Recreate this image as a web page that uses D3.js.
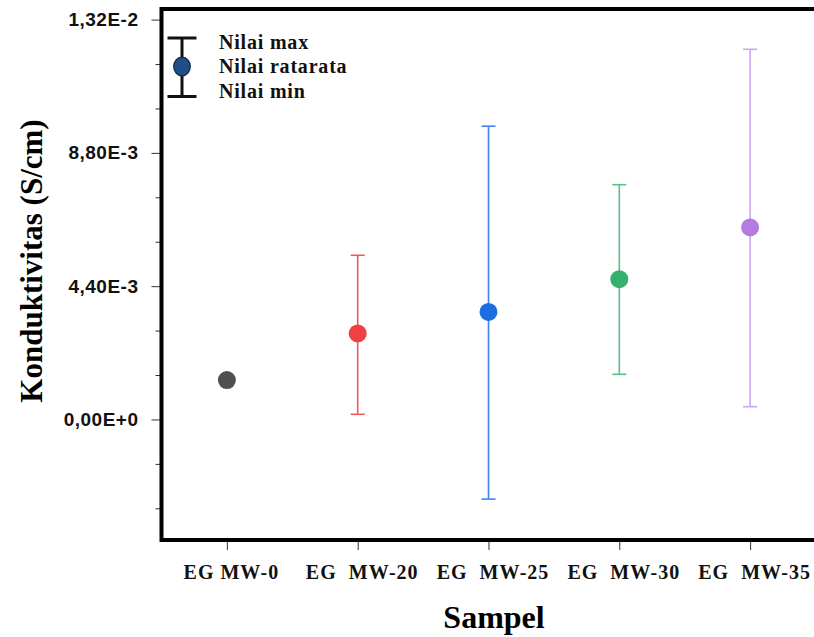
<!DOCTYPE html>
<html>
<head>
<meta charset="utf-8">
<script src="https://cdn.jsdelivr.net/npm/d3@7"></script>
<style>
  body { margin: 0; background: #fff; }
  svg { display: block; }
</style>
</head>
<body>
<svg width="814" height="637"></svg>
<script>
// conductivity per sample: mean with min / max range
var samples = ['EG MW-0', 'EG  MW-20', 'EG  MW-25', 'EG  MW-30', 'EG  MW-35'];
var meanVals = [1.30e-3, 2.84e-3, 3.55e-3, 4.63e-3, 6.34e-3];
var maxVals  = [null, 5.42e-3, 9.68e-3, 7.75e-3, 12.22e-3];
var minVals  = [null, 0.17e-3, -2.63e-3, 1.49e-3, 0.42e-3];
var dotColors = ['#4f4f4f', '#ef4141', '#1a6ee0', '#36b06b', '#b47ce0'];
var barColors = ['#4f4f4f', '#f05a5a', '#3f84e6', '#5cbd86', '#c9a8f0'];

var yTicks = [0, 4.4e-3, 8.8e-3, 13.2e-3];
var legendLabels = ['Nilai max', 'Nilai ratarata', 'Nilai min'];

var svg = d3.select('svg');

// note: "top" is taken by window.top, so use plot* names
var plotLeft = 161.5, plotRight = 815.5, plotTop = 9, plotBottom = 540;

var x = d3.scalePoint().domain(samples).range([plotLeft, plotRight]).padding(0.5);
var y = d3.scaleLinear().domain([-3.98e-3, 13.55e-3]).range([plotBottom, plotTop]);

var fmt = function(d){
  return d3.format('.2e')(d).replace('.', ',').replace('e', 'E');
};

// minor ticks: two between each major
var step = yTicks[1] - yTicks[0];
var minorTicks = d3.range(-3, 10).map(function(i){ return i * step / 3; })
  .filter(function(d){ return d >= y.domain()[0] && d <= y.domain()[1] && Math.abs(d / step - Math.round(d / step)) > 0.01; });

var yMinor = svg.append('g')
  .attr('transform', 'translate(' + plotLeft + ',0)')
  .call(d3.axisLeft(y).tickValues(minorTicks).tickSize(6).tickFormat(''));
yMinor.select('.domain').remove();
yMinor.selectAll('line').attr('stroke', '#333');

var yAxis = svg.append('g')
  .attr('transform', 'translate(' + plotLeft + ',0)')
  .call(d3.axisLeft(y).tickValues(yTicks).tickSize(10).tickPadding(13).tickFormat(fmt));
yAxis.select('.domain').remove();
yAxis.selectAll('line').attr('stroke', '#333');
yAxis.selectAll('text')
  .attr('fill', '#111')
  .style('font-family', '"Liberation Sans", Arial, sans-serif')
  .style('font-weight', 'bold')
  .style('font-size', '19px')
  .style('letter-spacing', '0.5px');

var xAxis = svg.append('g')
  .attr('transform', 'translate(0,' + plotBottom + ')')
  .call(d3.axisBottom(x).tickSize(10).tickPadding(15));
xAxis.select('.domain').remove();
xAxis.selectAll('line').attr('stroke', '#333');
xAxis.selectAll('text')
  .attr('fill', '#111')
  .attr('dx', 4)
  .style('white-space', 'pre')
  .style('font-family', '"Liberation Serif", "Times New Roman", serif')
  .style('font-weight', 'bold')
  .style('font-size', '20px')
  .style('letter-spacing', '1px');

// frame: the right side runs past the canvas edge, as in the source
svg.append('rect')
  .attr('x', plotLeft).attr('y', plotTop)
  .attr('width', plotRight - plotLeft + 20).attr('height', plotBottom - plotTop)
  .attr('fill', 'none').attr('stroke', '#000').attr('stroke-width', 4);

var data = samples.map(function(s, i){
  return {name: s, mean: meanVals[i], max: maxVals[i], min: minVals[i], dot: dotColors[i], bar: barColors[i]};
});
var withBars = data.filter(function(d){ return d.max !== null; });

var bars = svg.append('g');
bars.selectAll('line.stem').data(withBars).enter().append('line')
  .attr('class', 'stem')
  .attr('x1', function(d){ return x(d.name); })
  .attr('x2', function(d){ return x(d.name); })
  .attr('y1', function(d){ return y(d.max); })
  .attr('y2', function(d){ return y(d.min); })
  .attr('stroke', function(d){ return d.bar; })
  .attr('stroke-width', 1.6);

['max', 'min'].forEach(function(k){
  bars.selectAll('line.cap-' + k).data(withBars).enter().append('line')
    .attr('class', 'cap-' + k)
    .attr('x1', function(d){ return x(d.name) - 7; })
    .attr('x2', function(d){ return x(d.name) + 7; })
    .attr('y1', function(d){ return y(d[k]); })
    .attr('y2', function(d){ return y(d[k]); })
    .attr('stroke', function(d){ return d.bar; })
    .attr('stroke-width', 1.6);
});

svg.append('g').selectAll('circle').data(data).enter().append('circle')
  .attr('cx', function(d){ return x(d.name); })
  .attr('cy', function(d){ return y(d.mean); })
  .attr('r', 9)
  .attr('fill', function(d){ return d.dot; });

// legend
var lg = svg.append('g').attr('transform', 'translate(182,38)');
lg.append('line').attr('x1', 0).attr('x2', 0).attr('y1', 0).attr('y2', 58.5).attr('stroke', '#111').attr('stroke-width', 3);
lg.append('line').attr('x1', -14.5).attr('x2', 14.5).attr('y1', 0).attr('y2', 0).attr('stroke', '#111').attr('stroke-width', 3);
lg.append('line').attr('x1', -14.5).attr('x2', 14.5).attr('y1', 58.5).attr('y2', 58.5).attr('stroke', '#111').attr('stroke-width', 3);
lg.append('ellipse').attr('cx', 0).attr('cy', 28.5).attr('rx', 8.3).attr('ry', 9.5)
  .attr('fill', '#1f4e8a').attr('stroke', '#10213a').attr('stroke-width', 1.2);
lg.selectAll('text').data(legendLabels).enter().append('text')
  .attr('x', 37)
  .attr('y', function(d, i){ return 11 + i * 24.3; })
  .text(function(d){ return d; })
  .attr('fill', '#111')
  .style('font-family', '"Liberation Serif", "Times New Roman", serif')
  .style('font-weight', 'bold')
  .style('font-size', '20px')
  .style('letter-spacing', '0.8px');

// axis titles
svg.append('text')
  .attr('transform', 'translate(42,261) rotate(-90)')
  .attr('text-anchor', 'middle')
  .text('Konduktivitas (S/cm)')
  .attr('fill', '#000')
  .style('font-family', '"Liberation Serif", "Times New Roman", serif')
  .style('font-weight', 'bold')
  .style('font-size', '31px');

svg.append('text')
  .attr('x', 494).attr('y', 628)
  .attr('text-anchor', 'middle')
  .text('Sampel')
  .attr('fill', '#000')
  .style('font-family', '"Liberation Serif", "Times New Roman", serif')
  .style('font-weight', 'bold')
  .style('font-size', '32px');
</script>
</body>
</html>
